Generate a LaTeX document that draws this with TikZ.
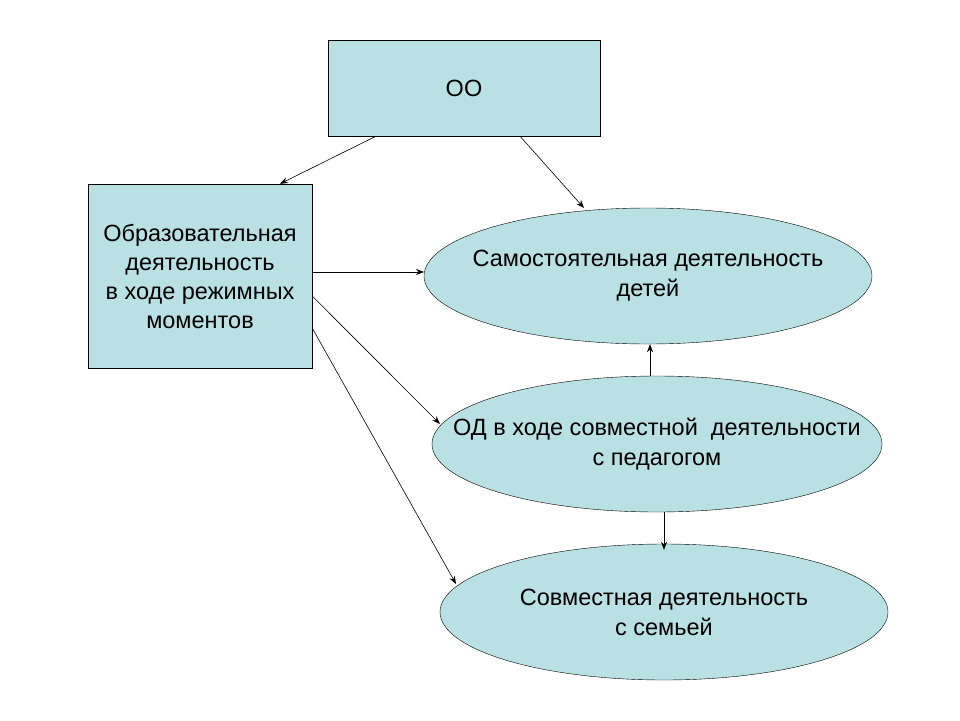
\documentclass[tikz,border=0pt]{standalone}
\usepackage{fontspec}
\setmainfont{Liberation Sans}
\usetikzlibrary{shapes.geometric,calc,arrows.meta}
\definecolor{fillc}{HTML}{B9E0E2}
\begin{document}
\begin{tikzpicture}[x=1pt,y=-1pt,
  box/.style={draw,fill=fillc,rectangle,inner sep=0pt,align=center,font=\fontsize{23.5}{29}\selectfont},
  ell/.style={draw,fill=fillc,ellipse,inner sep=0pt},
  txt/.style={align=center,font=\fontsize{23.5}{30}\selectfont},
  conn/.style={-{Stealth[length=8pt,width=6pt]},line width=0.6pt}]
\useasboundingbox (0,0) rectangle (960,720);
\node[box,minimum width=272pt,minimum height=96pt] (oo) at (464,88) {ОО};
\node[box,minimum width=224pt,minimum height=184pt] (left) at (200,276) {Образовательная\\деятельность\\в ходе режимных\\моментов};
\node[ell,minimum width=448pt,minimum height=136pt] (e1) at (648,276) {};
\node[txt] (t1) at (e1) {Самостоятельная деятельность\\детей};
\node[ell,minimum width=450pt,minimum height=136pt] (e2) at (657,444) {};
\node[txt] (t2) at (e2) {ОД в ходе совместной \ деятельности\\с педагогом};
\node[ell,minimum width=448pt,minimum height=136pt] (e3) at (664,612) {};
\node[txt] (t3) at (e3) {Совместная деятельность\\с семьей};
\draw[conn] ($(oo.south)+(-88,0)$) -- ($(left.north)+(80,0)$);
\draw[conn] ($(oo.south)+(56,0)$) -- (584,208);
\draw[conn] ($(left.east)+(0,-4)$) -- (424,272);
\draw[conn] ($(left.east)+(0,20)$) -- (440,424);
\draw[conn] ($(left.east)+(0,52)$) -- (456,584);
\draw[conn] ($(e2.north)+(-7,0)$) -- ($(e1.south)+(2,0)$);
\draw[conn] ($(e2.south)+(7,0)$) -- ($(e3.north)+(0,6)$);
\end{tikzpicture}
\end{document}
